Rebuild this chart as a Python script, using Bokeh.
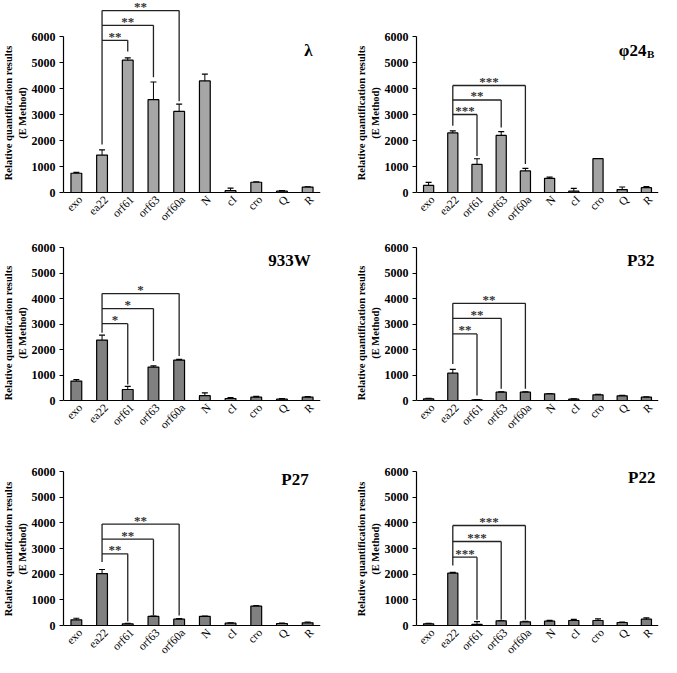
import math
from bokeh.plotting import figure
from bokeh.models import (FactorRange, Range1d, FixedTicker, ColumnDataSource,
                          Whisker, TeeHead, Title)
from bokeh.layouts import column, row
from bokeh.embed import file_html
from bokeh.resources import INLINE
from bokeh.core.properties import value

# ---------------- data ----------------
cats = ["exo", "ea22", "orf61", "orf63", "orf60a", "N", "cI", "cro", "Q", "R"]
yticks = [0, 1000, 2000, 3000, 4000, 5000, 6000]

names_main = ["λ", "φ24", "933W", "P32", "P27", "P22"]
names_sub = ["", "B", "", "", "", ""]

lambda_vals = [740, 1440, 5090, 3570, 3120, 4290, 70, 394, 50, 209]
lambda_err = [35, 200, 85, 680, 280, 260, 100, 12, 20, 12]

phi24b_vals = [273, 2293, 1078, 2194, 830, 545, 50, 1302, 112, 186]
phi24b_err = [120, 80, 220, 150, 100, 45, 110, 0, 100, 45]

w933_vals = [760, 2371, 432, 1310, 1585, 190, 79, 131, 52, 131]
w933_err = [55, 190, 120, 45, 30, 110, 30, 30, 20, 20]

p32_vals = [65, 1070, 26, 326, 326, 261, 52, 222, 183, 130]
p32_err = [20, 150, 10, 10, 10, 10, 10, 20, 15, 15]

p27_vals = [222, 2022, 65, 352, 248, 352, 91, 757, 78, 104]
p27_err = [60, 160, 20, 10, 20, 10, 10, 20, 15, 25]

p22_vals = [65, 2039, 40, 182, 143, 169, 195, 195, 117, 247]
p22_err = [20, 30, 110, 10, 20, 30, 40, 60, 15, 50]

# significance brackets: ea22 vs orf61, orf63, orf60a
targets = ["orf61", "orf63", "orf60a"]
stars = [["**", "**", "**"], ["***", "**", "***"], ["*", "*", "*"],
         ["**", "**", "**"], ["**", "**", "**"], ["***", "***", "***"]]
bracket_h = [[5852, 6431, 6998], [3000, 3558, 4116], [3013, 3603, 4192],
             [2609, 3222, 3809], [2791, 3365, 3952], [2662, 3273, 3896]]
bracket_left_bottom = [1848, 2566, 2660, 1435, 2478, 2338]
bracket_right_bottom = [[5421, 4435, 3511], [1400, 2500, 1100], [629, 1546, 1742],
                        [200, 456, 456], [157, 391, 391], [220, 220, 220]]

all_vals = [lambda_vals, phi24b_vals, w933_vals, p32_vals, p27_vals, p22_vals]
all_errs = [lambda_err, phi24b_err, w933_err, p32_err, p27_err, p22_err]

# ---------------- styling / layout ----------------
bar_colors = ["#a6a6a6", "#a3a3a3", "#808080", "#808080", "#808080", "#808080"]
title_y = [5480, 5450, 5490, 5490, 5690, 5770]
title_dx = [5, 0, 3, 8, 1, 9]

col_cfg = [dict(w=330, left=60, right=10), dict(w=330, left=86, right=2)]
# h: figure height; py6: pixel row of 6000 within figure; py0: pixel row of 0
row_cfg = [dict(h=225, py6=36, py0=192, loff=12),
           dict(h=215, py6=22, py0=175, loff=7),
           dict(h=217, py6=31, py0=185, loff=-3)]

SERIF = "Liberation Serif"


def make_panel(k):
    r, c = divmod(k, 2)
    rc, cc = row_cfg[r], col_cfg[c]
    s = (rc["py0"] - rc["py6"]) / 6000.0
    y_end = rc["py0"] / s
    y_start = -(rc["h"] - rc["py0"]) / s

    p = figure(x_range=FactorRange(*cats, range_padding=0.0),
               y_range=Range1d(y_start, y_end),
               width=cc["w"], height=rc["h"], output_backend="svg",
               toolbar_location=None, title=None,
               min_border_left=cc["left"], min_border_right=cc["right"],
               min_border_top=0, min_border_bottom=0)
    p.outline_line_color = None
    p.xgrid.grid_line_color = None
    p.ygrid.grid_line_color = None
    p.background_fill_color = "white"
    p.border_fill_color = "white"

    vals, errs = all_vals[k], all_errs[k]
    src = ColumnDataSource(dict(cat=cats, val=vals, zero=[0] * len(cats)))
    p.vbar(x="cat", top="val", width=0.42, source=src,
           fill_color=bar_colors[k], line_color="black", line_width=1.2)

    wsrc = ColumnDataSource(dict(
        cat=[cc_ for cc_, e in zip(cats, errs) if e > 0],
        up=[v + e for v, e in zip(vals, errs) if e > 0],
        lo=[max(v - e, 0) for v, e in zip(vals, errs) if e > 0]))
    wh = Whisker(base="cat", upper="up", lower="lo", source=wsrc,
                 line_color="black", line_width=1,
                 upper_head=TeeHead(size=6, line_color="black", line_width=1.2),
                 lower_head=TeeHead(size=6, line_color="black", line_width=1.2))
    p.add_layout(wh)

    # brackets
    hs = bracket_h[k]
    x0s, y0s, x1s, y1s = [], [], [], []
    x0s.append("ea22"); y0s.append(bracket_left_bottom[k]); x1s.append("ea22"); y1s.append(max(hs))
    for t, h, rb in zip(targets, hs, bracket_right_bottom[k]):
        x0s.append("ea22"); y0s.append(h); x1s.append(t); y1s.append(h)
        x0s.append(t); y0s.append(rb); x1s.append(t); y1s.append(h)
    p.segment(x0=x0s, y0=y0s, x1=x1s, y1=y1s, line_color="#222222", line_width=1.3)

    ie = cats.index("ea22")
    sx = [(ie + cats.index(t)) / 2.0 + 0.5 for t in targets]
    p.text(x=sx, y=hs, text=stars[k], text_align="center", text_baseline="middle",
           y_offset=-4, text_font=value(SERIF), text_font_style="bold",
           text_font_size="13px", text_color="#333333")

    # panel name
    p.text(x=["R"], y=[title_y[k]], text=[names_main[k]], text_align="right",
           text_baseline="alphabetic", x_offset=title_dx[k],
           text_font=value(SERIF), text_font_style="bold", text_font_size="17px",
           text_color="black")
    if names_sub[k]:
        p.text(x=["R"], y=[title_y[k]], text=[names_sub[k]], text_align="left",
               text_baseline="alphabetic", x_offset=title_dx[k] + 0.5, y_offset=3,
               text_font=value(SERIF), text_font_style="bold", text_font_size="11px",
               text_color="black")

    # category labels, rotated 45 degrees, ending just below the x axis
    p.text(x="cat", y="zero", text="cat", source=src, angle=math.pi / 4,
           text_align="right", text_baseline="middle", x_offset=4, y_offset=5,
           text_font=value(SERIF), text_font_size="11.5px", text_color="black")

    # axes
    ya = p.yaxis[0]
    ya.ticker = FixedTicker(ticks=yticks)
    ya.bounds = (0, 6000)
    ya.minor_tick_line_color = None
    ya.major_tick_in = 0
    ya.major_tick_out = 4
    ya.axis_line_color = "black"
    ya.axis_line_width = 1.2
    ya.major_tick_line_color = "black"
    ya.major_label_text_font = SERIF
    ya.major_label_text_font_style = "bold"
    ya.major_label_text_font_size = "12px"
    ya.major_label_text_color = "black"
    ya.major_label_standoff = 4

    xa = p.xaxis[0]
    xa.fixed_location = 0
    xa.major_tick_line_color = None
    xa.major_tick_out = 0
    xa.major_tick_in = 0
    xa.axis_line_color = "black"
    xa.axis_line_width = 1.2
    xa.major_label_text_font_size = "0px"
    xa.major_label_text_color = None

    for txt in ["(E Method)", "Relative quantification results"]:
        t = Title(text=txt, align="center", offset=rc["loff"], standoff=1,
                  text_font=SERIF, text_font_style="bold", text_font_size="10.5px",
                  text_color="black")
        p.add_layout(t, "left")
    return p


panels = [make_panel(k) for k in range(6)]
layout = column(row(panels[0], panels[1]), row(panels[2], panels[3]),
                row(panels[4], panels[5]))

open("out.html", "w").write(file_html(layout, INLINE))
